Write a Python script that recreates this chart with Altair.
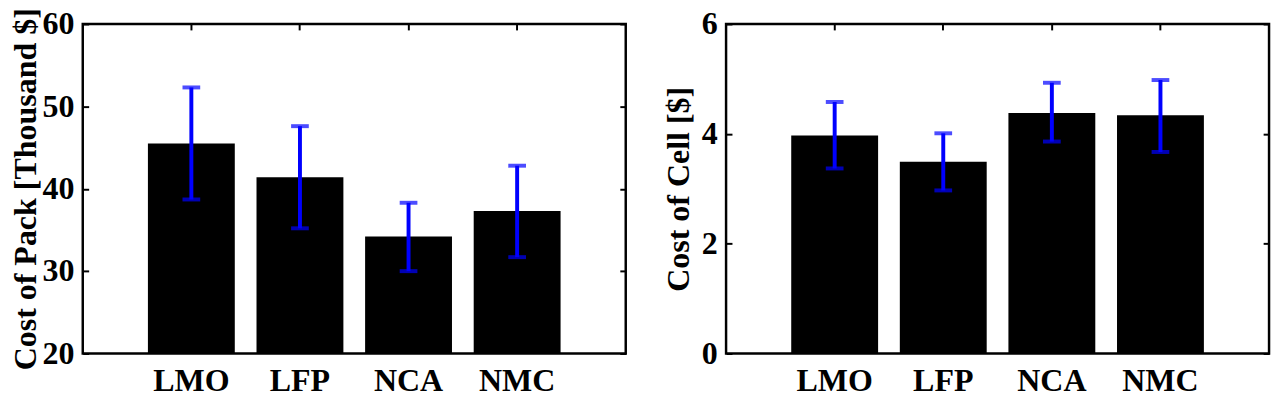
import altair as alt
import pandas as pd

chem = ["LMO", "LFP", "NCA", "NMC"]

pack_mean = [45.5, 41.4, 34.2, 37.3]
pack_low = [38.7, 35.2, 30.0, 31.7]
pack_high = [52.3, 47.6, 38.3, 42.8]

cell_mean = [3.97, 3.49, 4.38, 4.34]
cell_low = [3.37, 2.97, 3.86, 3.67]
cell_high = [4.58, 4.01, 4.93, 4.98]

pack_ticks = [20, 30, 40, 50, 60]
cell_ticks = [0, 2, 4, 6]

FONT = "Liberation Serif"
FS = 32.5
BLUE = "#0000ff"


def panel(mean, low, high, domain, ticks, title, title_pad):
    df = pd.DataFrame({"chem": chem, "mean": mean, "low": low, "high": high})
    xscale = alt.Scale(paddingInner=0.2, paddingOuter=0.6)
    yscale = alt.Scale(domain=domain, zero=False, nice=False)
    common = dict(domain=False, tickColor="black", tickWidth=2, tickSize=6, offset=-6, grid=False)
    x_bottom = alt.Axis(orient="bottom", title=None, labelAngle=0, labelFont=FONT,
                        labelFontSize=FS, labelFontWeight="bold", labelColor="black",
                        labelPadding=12, **common)
    y_left = alt.Axis(orient="left", values=ticks, title=title, labelFont=FONT,
                      labelFontSize=FS, labelFontWeight="bold", labelColor="black",
                      labelPadding=9, titleFont=FONT, titleFontSize=FS,
                      titleFontWeight="bold", titleColor="black", titlePadding=title_pad,
                      **common)
    x_top = alt.Axis(orient="top", title=None, labels=False, **common)
    y_right = alt.Axis(orient="right", values=ticks, title=None, labels=False, **common)

    bars = alt.Chart(df).mark_bar(color="black", clip=True).encode(
        x=alt.X("chem:N", sort=chem, scale=xscale, axis=x_bottom),
        y=alt.Y("mean:Q", scale=yscale, axis=y_left),
    )
    rule = alt.Chart(df).mark_rule(color=BLUE, strokeWidth=4).encode(
        x=alt.X("chem:N", sort=chem, scale=xscale, axis=x_top),
        y=alt.Y("low:Q", scale=yscale, axis=y_right),
        y2="high:Q",
    )
    cap_lo = alt.Chart(df).mark_tick(color=BLUE, size=18, thickness=4).encode(
        x=alt.X("chem:N", sort=chem, scale=xscale, axis=None),
        y=alt.Y("low:Q", scale=yscale, axis=None),
    )
    cap_hi = alt.Chart(df).mark_tick(color=BLUE, size=18, thickness=4).encode(
        x=alt.X("chem:N", sort=chem, scale=xscale, axis=None),
        y=alt.Y("high:Q", scale=yscale, axis=None),
    )
    return alt.layer(bars, rule, cap_lo, cap_hi).resolve_axis(
        x="independent", y="independent"
    ).properties(width=552, height=335)


left = panel(pack_mean, pack_low, pack_high, [20, 60], pack_ticks,
             "Cost of Pack [Thousand $]", 0)
right = panel(cell_mean, cell_low, cell_high, [0, 6], cell_ticks,
              "Cost of Cell [$]", 6)

chart = alt.hconcat(left, right, spacing=33).properties(
    padding={"top": -5, "left": 0, "right": 0, "bottom": 0}, background="white"
).configure_view(stroke="black", strokeWidth=2.5)

chart.save("out.html", embed_options={"renderer": "svg", "actions": False})
